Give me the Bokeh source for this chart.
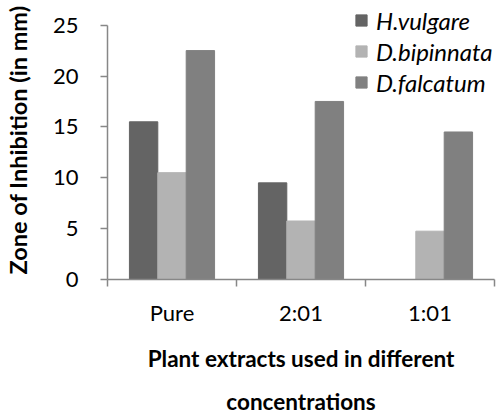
from bokeh.plotting import figure
from bokeh.models import (ColumnDataSource, Range1d, FixedTicker, Legend, LegendItem, Title)
from bokeh.embed import file_html
from bokeh.resources import INLINE

categories = ["Pure", "2:01", "1:01"]
series_names = ["H.vulgare", "D.bipinnata", "D.falcatum"]
h_vulgare = [15.5, 9.5, 0]
d_bipinnata = [10.5, 5.75, 4.75]
d_falcatum = [22.5, 17.5, 14.5]
y_ticks = [0, 5, 10, 15, 20, 25]
colors = ["#646464", "#b3b3b3", "#808080"]

FONT = "Lato"
AXIS_COLOR = "#878787"

# frame spans page y 0..283; the value axis (0..25) occupies y 25..283,
# leaving room above it for the legend like the reference
y_max = max(y_ticks)
y_end = y_max * 283 / 258

p = figure(width=500, height=414, output_backend="svg", toolbar_location=None,
           x_range=Range1d(0, len(categories)), y_range=Range1d(0, y_end),
           min_border_left=106, min_border_right=6, min_border_top=0,
           min_border_bottom=131)
p.outline_line_color = None
p.grid.grid_line_color = None
p.background_fill_color = "white"
p.border_fill_color = "white"

bw = 0.22
renderers = []
for j, (vals, c) in enumerate(zip([h_vulgare, d_bipinnata, d_falcatum], colors)):
    xs = [i + 0.5 + (j - 1) * bw for i in range(len(categories))]
    src = ColumnDataSource(dict(x=xs, top=vals))
    r = p.vbar(x="x", top="top", width=bw, bottom=0, source=src,
               fill_color=c, line_color=c, line_width=1)
    renderers.append(r)

# x axis
xa = p.xaxis[0]
centers = [i + 0.5 for i in range(len(categories))]
xa.ticker = FixedTicker(ticks=centers, minor_ticks=list(range(len(categories) + 1)))
xa.major_label_overrides = {c: lab for c, lab in zip(centers, categories)}
xa.major_tick_out = 0
xa.major_tick_in = 0
xa.minor_tick_out = 7
xa.minor_tick_in = 0
xa.minor_tick_line_color = AXIS_COLOR
xa.axis_line_color = AXIS_COLOR
xa.axis_line_width = 1.5
xa.minor_tick_line_width = 1.5
xa.major_label_text_font = FONT
xa.major_label_text_font_size = "22px"
xa.major_label_text_color = "black"
xa.major_label_standoff = 12

# y axis, limited to 0..25
ya = p.yaxis[0]
ya.bounds = (0, y_max)
ya.ticker = FixedTicker(ticks=y_ticks, minor_ticks=[])
ya.major_tick_out = 7
ya.major_tick_in = 0
ya.major_tick_line_color = AXIS_COLOR
ya.major_tick_line_width = 1.5
ya.axis_line_color = AXIS_COLOR
ya.axis_line_width = 1.5
ya.major_label_text_font = FONT
ya.major_label_text_font_size = "22px"
ya.major_label_text_color = "black"
ya.major_label_standoff = 22
ya.axis_label = "Zone of Inhibition (in mm)"
ya.axis_label_text_font = FONT
ya.axis_label_text_font_style = "bold"
ya.axis_label_text_font_size = "23.5px"
ya.axis_label_text_color = "black"
ya.axis_label_standoff = 18

# x axis title, two lines
t1 = Title(text="Plant extracts used in different", align="center", offset=-27,
           text_font=FONT, text_font_style="bold", text_font_size="22.5px",
           text_color="black", standoff=28)
t2 = Title(text="concentrations", align="center", offset=-20,
           text_font=FONT, text_font_style="bold", text_font_size="22.5px",
           text_color="black", standoff=0)
p.add_layout(t1, "below")
p.add_layout(t2, "below")

legend = Legend(items=[LegendItem(label=n, renderers=[r]) for n, r in zip(series_names, renderers)],
                location=(247, 182), orientation="vertical")
legend.label_text_font = FONT
legend.label_text_font_style = "italic"
legend.label_text_font_size = "24px"
legend.label_text_color = "black"
legend.glyph_width = 14
legend.glyph_height = 14
legend.label_height = 30
legend.spacing = 1
legend.padding = 0
legend.margin = 0
legend.label_standoff = 8
legend.background_fill_alpha = 0
legend.border_line_color = None
p.add_layout(legend, "center")

open("out.html", "w").write(file_html(p, INLINE))
